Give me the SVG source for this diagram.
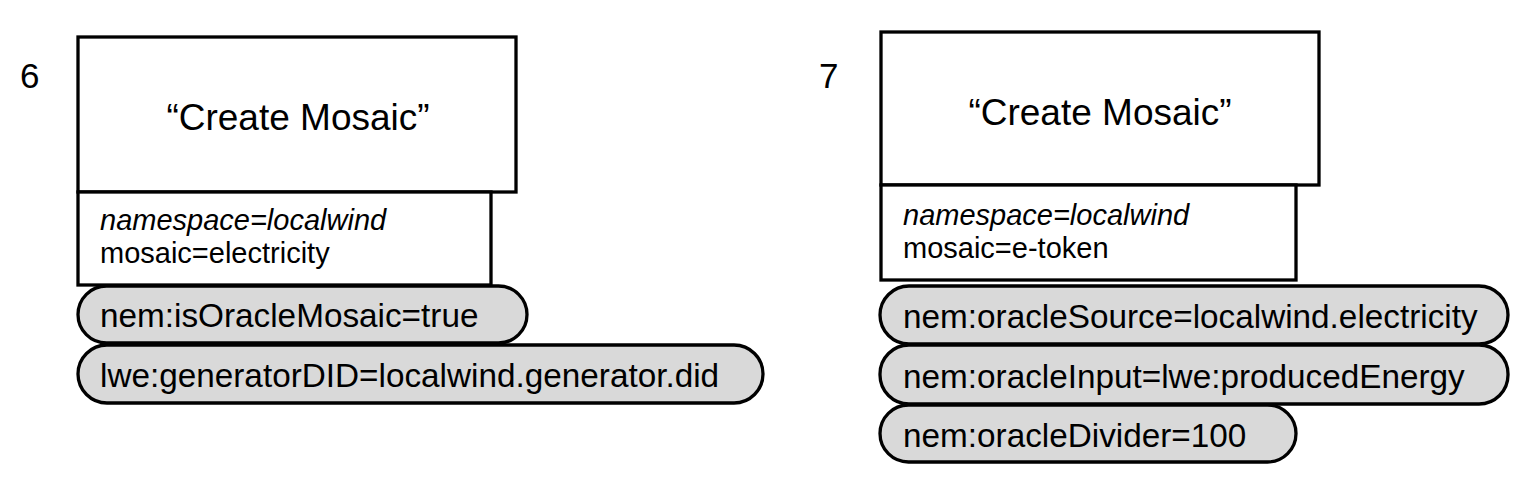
<svg xmlns="http://www.w3.org/2000/svg" width="1534" height="502" viewBox="0 0 1534 502">
<style>
text{font-family:"Liberation Sans",Arial,sans-serif;fill:#000}
.box{fill:#fff;stroke:#000;stroke-width:3.3}
.pill{fill:#d9d9d9;stroke:#000;stroke-width:3.3}
.num{font-size:35px}
.title{font-size:37px;text-anchor:middle}
.attr{font-size:29px}
.it{font-style:italic}
.prop{font-size:33.3px}
</style>
<rect width="1534" height="502" fill="#fff"/>
<g id="step6">
  <text class="num" x="20" y="88">6</text>
  <g id="n6-title">
    <rect class="box" x="78" y="37" width="438" height="155"/>
    <text class="title" x="298" y="130">“Create Mosaic”</text>
  </g>
  <g id="n6-attrs">
    <rect class="box" x="78" y="192" width="413" height="93"/>
    <text class="attr it" x="100" y="230">namespace=localwind</text>
    <text class="attr" x="100" y="263">mosaic=electricity</text>
  </g>
  <g id="n6-p1">
    <rect class="pill" x="78" y="286" width="449" height="57" rx="28.5"/>
    <text class="prop" x="100" y="327">nem:isOracleMosaic=true</text>
  </g>
  <g id="n6-p2">
    <rect class="pill" x="78" y="345" width="685" height="58" rx="29"/>
    <text class="prop" x="100" y="387">lwe:generatorDID=localwind.generator.did</text>
  </g>
</g>
<g id="step7">
  <text class="num" x="819" y="88">7</text>
  <g id="n7-title">
    <rect class="box" x="881" y="32" width="438" height="153"/>
    <text class="title" x="1100" y="125">“Create Mosaic”</text>
  </g>
  <g id="n7-attrs">
    <rect class="box" x="881" y="185" width="415" height="95"/>
    <text class="attr it" x="903" y="225">namespace=localwind</text>
    <text class="attr" x="903" y="258">mosaic=e-token</text>
  </g>
  <g id="n7-p1">
    <rect class="pill" x="880" y="286" width="628" height="58" rx="29"/>
    <text class="prop" x="903" y="328">nem:oracleSource=localwind.electricity</text>
  </g>
  <g id="n7-p2">
    <rect class="pill" x="880" y="345" width="628" height="59" rx="29"/>
    <text class="prop" x="903" y="388">nem:oracleInput=lwe:producedEnergy</text>
  </g>
  <g id="n7-p3">
    <rect class="pill" x="880" y="405" width="416" height="57" rx="28.5"/>
    <text class="prop" x="903" y="447">nem:oracleDivider=100</text>
  </g>
</g>
<g id="connectors"></g>
</svg>
